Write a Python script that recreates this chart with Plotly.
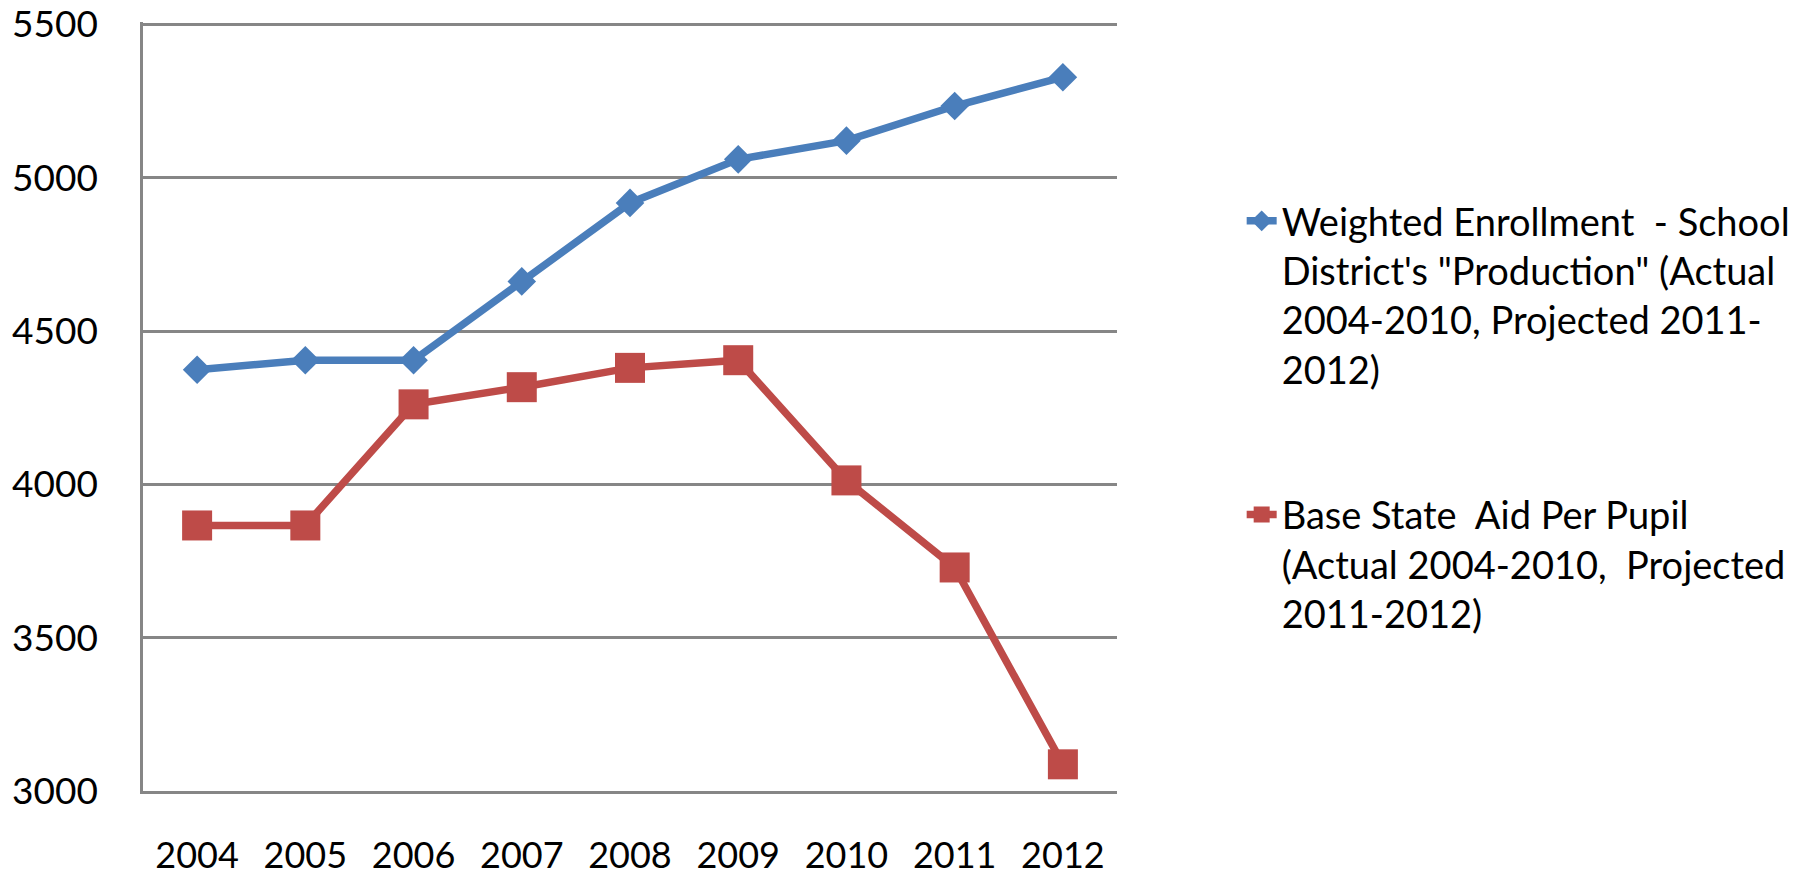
import plotly.graph_objects as go

years = ["2004", "2005", "2006", "2007", "2008", "2009", "2010", "2011", "2012"]
weighted_enrollment = [4374, 4405, 4405, 4662, 4918, 5060, 5121, 5234, 5328]
base_state_aid = [3866, 3866, 4261, 4317, 4380, 4405, 4013, 3729, 3087]
y_ticks = [3000, 3500, 4000, 4500, 5000, 5500]

name_enroll = ("Weighted Enrollment  - School<br>District's \"Production\" (Actual<br>"
               "2004-2010, Projected 2011-<br>2012)")
name_aid = "Base State  Aid Per Pupil<br>(Actual 2004-2010,  Projected<br>2011-2012)"

BLUE = "#4A7EBB"
RED = "#BE4B48"
GRID = "#868686"
FONT = "Lato"

fig = go.Figure()
fig.add_trace(go.Scatter(
    x=years, y=weighted_enrollment, mode="lines+markers", name=name_enroll,
    legendgroup="a",
    line=dict(color=BLUE, width=7.5),
    marker=dict(symbol="diamond", size=22, color=BLUE),
))
fig.add_trace(go.Scatter(
    x=years, y=base_state_aid, mode="lines+markers", name=name_aid,
    legendgroup="b",
    line=dict(color=RED, width=7.5),
    marker=dict(symbol="square", size=30, color=RED),
))

fig.update_layout(
    width=1810, height=875,
    margin=dict(l=143, r=693, t=22, b=84),
    paper_bgcolor="white", plot_bgcolor="white",
    font=dict(family=FONT, size=37, color="black"),
    showlegend=True,
    legend=dict(
        x=1.128, y=0.782, xanchor="left", yanchor="top",
        font=dict(family=FONT, size=38, color="black"),
        valign="top", tracegroupgap=93, itemwidth=30,
        bgcolor="rgba(0,0,0,0)",
    ),
    xaxis=dict(
        type="category", range=[-0.5, 8.5], automargin=False,
        showgrid=False, showline=True, linecolor=GRID, linewidth=2.5,
        ticks="outside", ticklen=31, tickcolor="rgba(0,0,0,0)",
        tickfont=dict(family=FONT, size=36, color="black"),
        ticklabeloverflow="allow",
        zeroline=False,
    ),
    yaxis=dict(
        range=[3000, 5508], tickvals=y_ticks, automargin=False,
        showgrid=True, gridcolor=GRID, gridwidth=2.5,
        showline=True, linecolor=GRID, linewidth=2.5,
        ticks="outside", ticklen=35, tickcolor="rgba(0,0,0,0)",
        tickfont=dict(family=FONT, size=37, color="black"),
        ticklabeloverflow="allow",
        zeroline=False,
    ),
)

fig.write_html("out.html")
